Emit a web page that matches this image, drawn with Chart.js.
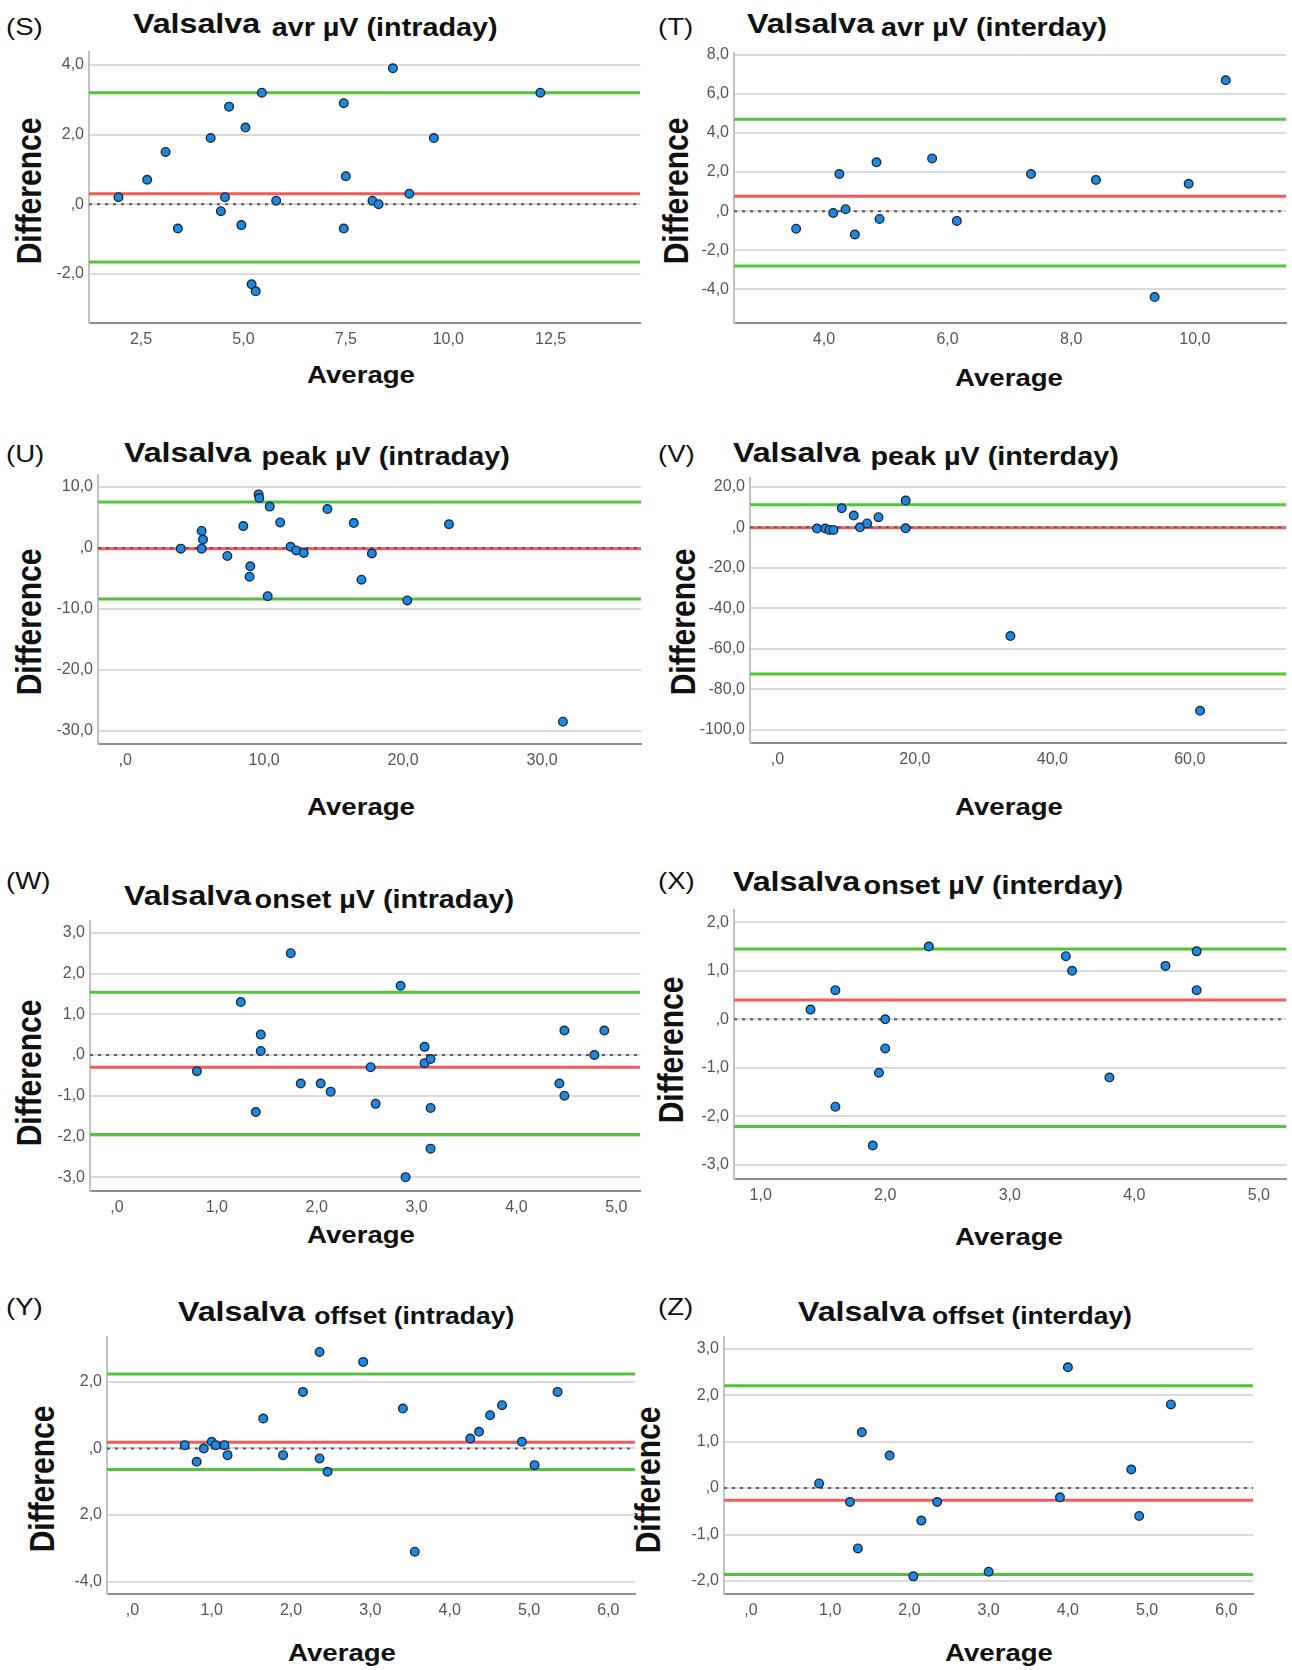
<!DOCTYPE html>
<html lang="en">
<head>
<meta charset="UTF-8">
<title>Valsalva Bland-Altman plots</title>
<style>
  body { margin: 0; background: #fff; width: 1292px; height: 1670px; position: relative; overflow: hidden; font-family: "Liberation Sans", Arial, sans-serif; color: #111; }
  canvas { position: absolute; }
  /* the source figure is a little stretched sideways, so the text is too */
  .lbl { position: absolute; font-size: 24px; line-height: 1; transform: scaleX(1.15); transform-origin: left top; white-space: nowrap; }
  .ttl { position: absolute; font-size: 28px; line-height: 1; font-weight: bold; transform: scaleX(1.15); transform-origin: left top; white-space: nowrap; }
  .ttl .sub { font-size: 25px; position: relative; top: 3px; }
  .ttl.small .sub { font-size: 23px; }
  .axt { position: absolute; font-weight: bold; line-height: 1; white-space: nowrap; }
  .avg { font-size: 24px; transform: translate(-50%, -50%) scaleX(1.15); }
  .dif { font-size: 30px; transform: translate(-50%, -50%) scaleX(1.15) rotate(-90deg); }
</style>
<script src="https://cdn.jsdelivr.net/npm/chart.js"></script>
</head>
<body>

<div class="lbl" style="left:6px;top:15px">(S)</div>
<div class="ttl" style="left:133px;top:10px">Valsalva<span class="sub" style="margin-left:10px">avr µV (intraday)</span></div>
<div class="axt dif" style="left:29px;top:191px">Difference</div>
<div class="axt avg" style="left:361px;top:375px">Average</div>

<div class="lbl" style="left:658px;top:15px">(T)</div>
<div class="ttl" style="left:747px;top:10px">Valsalva<span class="sub" style="margin-left:6px">avr µV (interday)</span></div>
<div class="axt dif" style="left:676px;top:191px">Difference</div>
<div class="axt avg" style="left:1009px;top:378px">Average</div>

<div class="lbl" style="left:6px;top:442px">(U)</div>
<div class="ttl" style="left:124px;top:439px">Valsalva<span class="sub" style="margin-left:9px">peak µV (intraday)</span></div>
<div class="axt dif" style="left:29px;top:622px">Difference</div>
<div class="axt avg" style="left:361px;top:807px">Average</div>

<div class="lbl" style="left:658px;top:442px">(V)</div>
<div class="ttl" style="left:733px;top:439px">Valsalva<span class="sub" style="margin-left:9px">peak µV (interday)</span></div>
<div class="axt dif" style="left:683px;top:622px">Difference</div>
<div class="axt avg" style="left:1009px;top:807px">Average</div>

<div class="lbl" style="left:6px;top:869px">(W)</div>
<div class="ttl" style="left:124px;top:882px">Valsalva<span class="sub" style="margin-left:3px">onset µV (intraday)</span></div>
<div class="axt dif" style="left:29px;top:1073px">Difference</div>
<div class="axt avg" style="left:361px;top:1235px">Average</div>

<div class="lbl" style="left:658px;top:869px">(X)</div>
<div class="ttl" style="left:733px;top:868px">Valsalva<span class="sub" style="margin-left:3px">onset µV (interday)</span></div>
<div class="axt dif" style="left:671px;top:1050px">Difference</div>
<div class="axt avg" style="left:1009px;top:1237px">Average</div>

<div class="lbl" style="left:6px;top:1295px">(Y)</div>
<div class="ttl small" style="left:178px;top:1298px">Valsalva<span class="sub" style="margin-left:8px">offset (intraday)</span></div>
<div class="axt dif" style="left:42px;top:1479px">Difference</div>
<div class="axt avg" style="left:342px;top:1653px">Average</div>

<div class="lbl" style="left:658px;top:1295px">(Z)</div>
<div class="ttl small" style="left:798px;top:1298px">Valsalva<span class="sub" style="margin-left:6px">offset (interday)</span></div>
<div class="axt dif" style="left:648px;top:1480px">Difference</div>
<div class="axt avg" style="left:999px;top:1653px">Average</div>

<script>
    // (S) avr uV intraday
    const avgS = [1.95, 2.65, 3.1, 3.4, 4.2, 4.45, 4.55, 4.65, 4.95, 5.05, 5.2, 5.3, 5.45, 5.8, 7.45, 7.5, 7.45, 8.15, 8.3, 8.65, 9.05, 9.65, 12.25];
    const diffS = [0.2, 0.7, 1.5, -0.7, 1.9, -0.2, 0.2, 2.8, -0.6, 2.2, -2.3, -2.5, 3.2, 0.1, 2.9, 0.8, -0.7, 0.1, 0.0, 3.9, 0.3, 1.9, 3.2];
    const linesS = [0.3, 3.2, -1.66]; // mean, upper, lower limit
    const xRangeS = [1.23, 14.69];
    const yRangeS = [-3.41, 4.38];
    const xTicksS = [2.5, 5, 7.5, 10, 12.5];
    const xLabelsS = ['2,5', '5,0', '7,5', '10,0', '12,5'];
    const yTicksS = [-2, 0, 2, 4];
    const yLabelsS = ['-2,0', ',0', '2,0', '4,0'];

    // (T) avr uV interday
    const avgT = [3.55, 4.15, 4.25, 4.35, 4.5, 4.85, 4.9, 5.75, 6.15, 7.35, 8.4, 9.35, 9.9, 10.5];
    const diffT = [-0.9, -0.1, 1.9, 0.1, -1.2, 2.5, -0.4, 2.7, -0.5, 1.9, 1.6, -4.4, 1.4, 6.7];
    const linesT = [0.76, 4.71, -2.81];
    const xRangeT = [2.545, 11.48];
    const yRangeT = [-5.73, 8.12];
    const xTicksT = [4, 6, 8, 10];
    const xLabelsT = ['4,0', '6,0', '8,0', '10,0'];
    const yTicksT = [-4, -2, 0, 2, 4, 6, 8];
    const yLabelsT = ['-4,0', '-2,0', ',0', '2,0', '4,0', '6,0', '8,0'];

    // (U) peak uV intraday
    const avgU = [4.0, 5.5, 5.6, 5.5, 7.35, 8.5, 9.0, 8.95, 9.6, 9.65, 10.25, 10.4, 11.15, 11.9, 12.3, 12.85, 14.55, 16.45, 17.0, 17.75, 20.3, 23.3, 31.5];
    const diffU = [-0.1, 2.8, 1.4, -0.1, -1.3, 3.6, -3.0, -4.7, 8.8, 8.2, -7.9, 6.8, 4.2, 0.2, -0.4, -0.8, 6.4, 4.1, -5.2, -0.9, -8.6, 3.9, -28.5];
    const linesU = [-0.1, 7.57, -8.38];
    const xRangeU = [-1.96, 37.14];
    const yRangeU = [-32.16, 12.05];
    const xTicksU = [0, 10, 20, 30];
    const xLabelsU = [',0', '10,0', '20,0', '30,0'];
    const yTicksU = [-30, -20, -10, 0, 10];
    const yLabelsU = ['-30,0', '-20,0', '-10,0', ',0', '10,0'];

    // (V) peak uV interday
    const avgV = [5.75, 6.95, 7.55, 8.15, 9.35, 11.1, 12.0, 13.05, 14.7, 18.65, 18.65, 33.9, 61.5];
    const diffV = [-0.6, -0.6, -1.3, -1.3, 9.4, 5.8, 0.0, 1.9, 5.0, 13.2, -0.5, -53.7, -90.6];
    const linesV = [-0.16, 11.2, -72.4];
    const xRangeV = [-4.0, 74.05];
    const yRangeV = [-106.5, 24.55];
    const xTicksV = [0, 20, 40, 60];
    const xLabelsV = [',0', '20,0', '40,0', '60,0'];
    const yTicksV = [-100, -80, -60, -40, -20, 0, 20];
    const yLabelsV = ['-100,0', '-80,0', '-60,0', '-40,0', '-20,0', ',0', '20,0'];

    // (W) onset uV intraday
    const avgW = [0.8, 1.24, 1.39, 1.44, 1.44, 1.74, 1.84, 2.04, 2.14, 2.54, 2.59, 2.84, 2.89, 3.08, 3.08, 3.14, 3.14, 3.14, 4.43, 4.48, 4.48, 4.78, 4.88];
    const diffW = [-0.4, 1.3, -1.4, 0.5, 0.1, 2.5, -0.7, -0.7, -0.9, -0.3, -1.2, 1.7, -3.0, 0.2, -0.2, -0.1, -1.3, -2.3, -0.7, 0.6, -1.0, 0.0, 0.6];
    const linesW = [-0.3, 1.54, -1.95];
    const xRangeW = [-0.27, 5.24];
    const yRangeW = [-3.34, 3.3];
    const xTicksW = [0, 1, 2, 3, 4, 5];
    const xLabelsW = [',0', '1,0', '2,0', '3,0', '4,0', '5,0'];
    const yTicksW = [-3, -2, -1, 0, 1, 2, 3];
    const yLabelsW = ['-3,0', '-2,0', '-1,0', ',0', '1,0', '2,0', '3,0'];

    // (X) onset uV interday
    const avgX = [1.4, 1.6, 1.6, 1.9, 1.95, 2.0, 2.0, 2.35, 3.45, 3.5, 3.8, 4.25, 4.5, 4.5];
    const diffX = [0.2, 0.6, -1.8, -2.6, -1.1, 0.0, -0.6, 1.5, 1.3, 1.0, -1.2, 1.1, 1.4, 0.6];
    const linesX = [0.4, 1.45, -2.21];
    const xRangeX = [0.786, 5.22];
    const yRangeX = [-3.29, 2.26];
    const xTicksX = [1, 2, 3, 4, 5];
    const xLabelsX = ['1,0', '2,0', '3,0', '4,0', '5,0'];
    const yTicksX = [-3, -2, -1, 0, 1, 2];
    const yLabelsX = ['-3,0', '-2,0', '-1,0', ',0', '1,0', '2,0'];

    // (Y) offset intraday
    const avgY = [0.66, 0.81, 0.9, 1.0, 1.05, 1.16, 1.2, 1.65, 1.9, 2.15, 2.36, 2.36, 2.46, 2.91, 3.41, 3.56, 4.26, 4.37, 4.51, 4.66, 4.91, 5.07, 5.36];
    const diffY = [0.1, -0.4, 0.0, 0.2, 0.1, 0.1, -0.2, 0.9, -0.2, 1.7, 2.9, -0.3, -0.7, 2.6, 1.2, -3.1, 0.3, 0.5, 1.0, 1.3, 0.2, -0.5, 1.7];
    const linesY = [0.19, 2.24, -0.63];
    const xRangeY = [-0.32, 6.34];
    const yRangeY = [-4.37, 3.36];
    const xTicksY = [0, 1, 2, 3, 4, 5, 6];
    const xLabelsY = [',0', '1,0', '2,0', '3,0', '4,0', '5,0', '6,0'];
    const yTicksY = [-4, -2, 0, 2];
    const yLabelsY = ['-4,0', '2,0', ',0', '2,0']; // the source prints "2,0" for -2

    // (Z) offset interday
    const avgZ = [0.86, 1.25, 1.35, 1.4, 1.75, 2.05, 2.15, 2.35, 3.0, 3.9, 4.0, 4.8, 4.9, 5.3];
    const diffZ = [0.1, -0.3, -1.3, 1.2, 0.7, -1.9, -0.7, -0.3, -1.8, -0.2, 2.6, 0.4, -0.6, 1.8];
    const linesZ = [-0.26, 2.2, -1.86];
    const xRangeZ = [-0.34, 6.34];
    const yRangeZ = [-2.28, 3.26];
    const xTicksZ = [0, 1, 2, 3, 4, 5, 6];
    const xLabelsZ = [',0', '1,0', '2,0', '3,0', '4,0', '5,0', '6,0'];
    const yTicksZ = [-2, -1, 0, 1, 2, 3];
    const yLabelsZ = ['-2,0', '-1,0', ',0', '1,0', '2,0', '3,0'];

    // plot area of each panel on the page: left, right, top, bottom
    const panels = [
        { left: 0,   area: [89, 642, 49, 323],    avg: avgS, diff: diffS, lines: linesS, xr: xRangeS, yr: yRangeS, xt: xTicksS, xl: xLabelsS, yt: yTicksS, yl: yLabelsS },
        { left: 646, area: [734, 1288, 50, 323],  avg: avgT, diff: diffT, lines: linesT, xr: xRangeT, yr: yRangeT, xt: xTicksT, xl: xLabelsT, yt: yTicksT, yl: yLabelsT },
        { left: 0,   area: [98, 643, 472, 744],   avg: avgU, diff: diffU, lines: linesU, xr: xRangeU, yr: yRangeU, xt: xTicksU, xl: xLabelsU, yt: yTicksU, yl: yLabelsU },
        { left: 646, area: [750, 1288, 475, 743], avg: avgV, diff: diffV, lines: linesV, xr: xRangeV, yr: yRangeV, xt: xTicksV, xl: xLabelsV, yt: yTicksV, yl: yLabelsV },
        { left: 0,   area: [90, 642, 918, 1191],  avg: avgW, diff: diffW, lines: linesW, xr: xRangeW, yr: yRangeW, xt: xTicksW, xl: xLabelsW, yt: yTicksW, yl: yLabelsW },
        { left: 646, area: [734, 1288, 907, 1179], avg: avgX, diff: diffX, lines: linesX, xr: xRangeX, yr: yRangeX, xt: xTicksX, xl: xLabelsX, yt: yTicksX, yl: yLabelsX },
        { left: 0,   area: [107, 637, 1334, 1594], avg: avgY, diff: diffY, lines: linesY, xr: xRangeY, yr: yRangeY, xt: xTicksY, xl: xLabelsY, yt: yTicksY, yl: yLabelsY },
        { left: 646, area: [724, 1255, 1334, 1594], avg: avgZ, diff: diffZ, lines: linesZ, xr: xRangeZ, yr: yRangeZ, xt: xTicksZ, xl: xLabelsZ, yt: yTicksZ, yl: yLabelsZ }
    ];

    const padTop = 12;
    const xAxisHeight = 32;
    const tickFont = { family: 'Liberation Sans', size: 16 };

    function hline(p, y, color, width, dash) {
        return {
            data: [{ x: p.xr[0], y: y }, { x: p.xr[1], y: y }],
            showLine: true,
            borderColor: color,
            borderWidth: width,
            borderDash: dash || [],
            pointRadius: 0
        };
    }

    panels.forEach(p => {
        const [L, R, T, B] = p.area;
        const right = Math.min(R + 4, 1292);
        const top = T - padTop;
        const cv = document.createElement('canvas');
        cv.width = right - p.left;
        cv.height = B + xAxisHeight - top;
        cv.style.left = p.left + 'px';
        cv.style.top = top + 'px';
        document.body.appendChild(cv);

        new Chart(cv, {
            type: 'scatter',
            data: {
                datasets: [
                    {
                        data: p.avg.map((x, i) => ({ x: x, y: p.diff[i] })),
                        pointRadius: 4.3,
                        pointBackgroundColor: '#2089dd',
                        pointBorderColor: '#152c47',
                        pointBorderWidth: 1.4
                    },
                    hline(p, 0, '#5a5a5a', 2, [3, 5]),
                    hline(p, p.lines[0], '#f25b5b', 3),
                    hline(p, p.lines[1], '#52c437', 3),
                    hline(p, p.lines[2], '#52c437', 3)
                ]
            },
            options: {
                responsive: false,
                animation: false,
                devicePixelRatio: 1,
                layout: { padding: { top: padTop, right: right - R, left: 0, bottom: 0 } },
                plugins: { legend: { display: false }, tooltip: { enabled: false } },
                scales: {
                    x: {
                        type: 'linear',
                        min: p.xr[0],
                        max: p.xr[1],
                        afterBuildTicks: s => { s.ticks = p.xt.map(v => ({ value: v })); },
                        afterFit: s => { s.height = xAxisHeight; },
                        grid: { display: false, drawTicks: false },
                        border: { color: '#8e8e8e', width: 2 },
                        ticks: { autoSkip: false, maxRotation: 0, padding: 7, color: '#555', font: tickFont,
                                 callback: (v, i) => p.xl[i] }
                    },
                    y: {
                        type: 'linear',
                        min: p.yr[0],
                        max: p.yr[1],
                        afterBuildTicks: s => { s.ticks = p.yt.map(v => ({ value: v })); },
                        afterFit: s => { s.width = L - p.left; },
                        grid: { color: '#dadada', lineWidth: 2, drawTicks: false },
                        border: { color: '#c2c2c2', width: 2 },
                        ticks: { autoSkip: false, padding: 5, color: '#555', font: tickFont,
                                 callback: (v, i) => p.yl[i] }
                    }
                }
            }
        });
    });
</script>

</body>
</html>
